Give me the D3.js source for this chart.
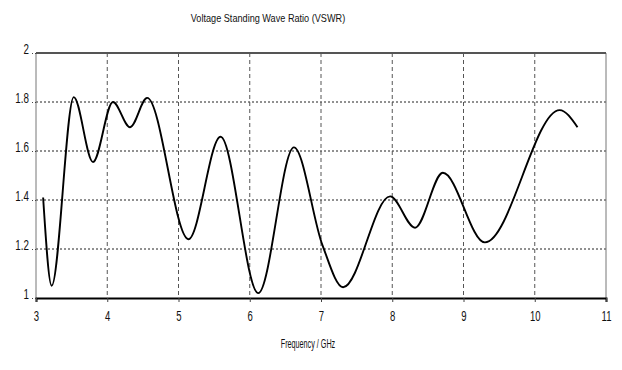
<!DOCTYPE html>
<html>
<head>
<meta charset="utf-8">
<script src="https://cdn.jsdelivr.net/npm/d3@7"></script>
<style>
  body { margin: 0; background: #fff; }
  svg text { font-family: "Liberation Sans", Arial, sans-serif; fill: #111; }
</style>
</head>
<body>
<svg id="chart" width="622" height="370"></svg>
<script>
// VSWR readings (frequency in GHz, ratio) - turning points of the measured curve
const freqGHz = [3.1, 3.22, 3.53, 3.8, 4.08, 4.32, 4.56, 5.14, 5.59, 6.12, 6.62, 7.02, 7.31, 7.97, 8.32, 8.71, 9.3, 10.35, 10.6];
const vswr    = [1.41, 1.05, 1.82, 1.555, 1.80, 1.697, 1.817, 1.24, 1.658, 1.02, 1.615, 1.216, 1.044, 1.415, 1.287, 1.511, 1.227, 1.767, 1.697];

const xTicks = [3, 4, 5, 6, 7, 8, 9, 10, 11];
const yTicks = [1, 1.2, 1.4, 1.6, 1.8, 2];

const svg = d3.select("#chart");
const plotLeft = 36, plotRight = 606, plotTop = 53, plotBottom = 298;

let x = d3.scaleLinear().domain([3, 11]).range([plotLeft, plotRight]);
let y = d3.scaleLinear().domain([1, 2]).range([plotBottom, plotTop]);

// squeeze text horizontally, the original uses a narrow face
function narrow(sel, k) {
    sel.each(function() {
        let len = this.getComputedTextLength();
        d3.select(this).attr("textLength", len * k).attr("lengthAdjust", "spacingAndGlyphs");
    });
}

// grid
svg.append("g").selectAll("line").data(yTicks.slice(1, -1)).enter().append("line")
    .attr("x1", plotLeft).attr("x2", plotRight)
    .attr("y1", d => y(d)).attr("y2", d => y(d))
    .attr("stroke", "#222").attr("stroke-width", 1).attr("stroke-dasharray", "2,2");

svg.append("g").selectAll("line").data(xTicks.slice(1, -1)).enter().append("line")
    .attr("x1", d => x(d)).attr("x2", d => x(d))
    .attr("y1", plotTop).attr("y2", plotBottom)
    .attr("stroke", "#555").attr("stroke-width", 1).attr("stroke-dasharray", "4,3");

// frame
svg.append("line").attr("x1", plotLeft).attr("x2", plotLeft).attr("y1", plotTop).attr("y2", plotBottom)
    .attr("stroke", "#777").attr("stroke-width", 1);
svg.append("line").attr("x1", plotRight).attr("x2", plotRight).attr("y1", plotTop).attr("y2", plotBottom)
    .attr("stroke", "#777").attr("stroke-width", 1);
svg.append("line").attr("x1", plotLeft).attr("x2", plotRight).attr("y1", plotTop).attr("y2", plotTop)
    .attr("stroke", "#555").attr("stroke-width", 2);

// axes
let xAxis = d3.axisBottom(x).tickValues(xTicks).tickFormat(d3.format("d")).tickSize(4).tickPadding(9);
let gX = svg.append("g").attr("transform", "translate(0," + plotBottom + ")").call(xAxis);
gX.select(".domain").attr("stroke", "#000").attr("stroke-width", 2);
gX.selectAll(".tick line").attr("stroke", "#444");
gX.selectAll("text").attr("font-size", 14).attr("font-family", "Liberation Sans, Arial, sans-serif");
narrow(gX.selectAll("text"), 0.68);

let yAxis = d3.axisLeft(y).tickValues(yTicks).tickFormat(d => d3.format("")(d)).tickSize(4).tickPadding(3);
let gY = svg.append("g").attr("transform", "translate(" + plotLeft + ",0)").call(yAxis);
gY.select(".domain").remove();
gY.selectAll(".tick line").attr("stroke", "#444").attr("stroke-dasharray", "1,2");
gY.selectAll("text").attr("font-size", 14).attr("dy", 0)
    .attr("font-family", "Liberation Sans, Arial, sans-serif");
narrow(gY.selectAll("text"), 0.7);

// curve
let line = d3.line()
    .x((d, i) => x(freqGHz[i]))
    .y(d => y(d))
    .curve(d3.curveMonotoneX);

svg.append("path").datum(vswr)
    .attr("d", line)
    .attr("fill", "none")
    .attr("stroke", "#000")
    .attr("stroke-width", 1.9);

// titles
let title = svg.append("text").attr("x", 268).attr("y", 22).attr("text-anchor", "middle")
    .attr("font-size", 11).text("Voltage Standing Wave Ratio (VSWR)");
narrow(title, 0.83);
let xLabel = svg.append("text").attr("x", 308).attr("y", 348).attr("text-anchor", "middle")
    .attr("font-size", 12).text("Frequency / GHz");
narrow(xLabel, 0.6);
</script>
</body>
</html>
